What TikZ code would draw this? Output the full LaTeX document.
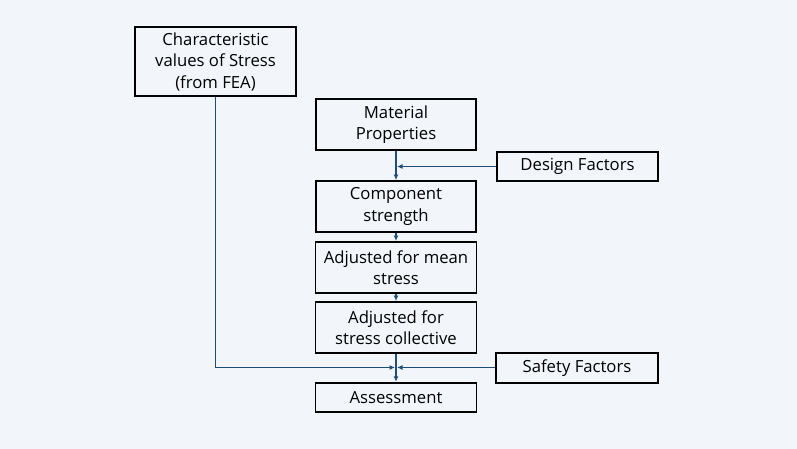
\documentclass[tikz,border=0pt]{standalone}
\usepackage{fontspec}
\setmainfont{Open Sans}
\usetikzlibrary{arrows.meta,calc}
\definecolor{bgc}{HTML}{F2F6FA}
\definecolor{linec}{HTML}{1F4E79}
\begin{document}
\begin{tikzpicture}[x=1pt,y=-1pt,
  box/.style={draw=black,line width=1.9pt,fill=bgc,align=center,inner sep=0pt,
    font=\fontsize{16.7}{21.5}\selectfont},
  conn/.style={draw=linec,line width=1.9pt,-{Latex[length=5.5pt,width=5pt]}},
  plain/.style={draw=linec,line width=1.9pt}]
\fill[bgc] (0,0) rectangle (797,449);
\useasboundingbox (0,0) rectangle (797,449);
\node[box,minimum width=161pt,minimum height=69pt] (fea) at (215.5,61.5) {Characteristic\\values of Stress\\(from FEA)};
\node[box,minimum width=160pt,minimum height=51pt] (mat) at (396,124.5) {Material\\Properties};
\node[box,minimum width=161pt,minimum height=29pt] (des) at (577.5,166.5) {Design Factors};
\node[box,minimum width=160pt,minimum height=51pt] (comp) at (396,206.5) {Component\\strength};
\node[box,minimum width=161pt,minimum height=51pt] (mean) at (396,267.5) {Adjusted for mean\\stress};
\node[box,minimum width=161pt,minimum height=51pt] (coll) at (396,327.5) {Adjusted for\\stress collective};
\node[box,minimum width=162pt,minimum height=29.5pt] (saf) at (577,368) {Safety Factors};
\node[box,minimum width=161pt,minimum height=29.5pt] (ass) at (396,397.5) {Assessment};
\coordinate (j1) at (396,166.5);
\coordinate (j2) at (396,367.5);
\draw[conn] (mat.south) -- (comp.north);
\draw[conn] (des.west) -- ($(j1)+(1,0)$);
\draw[conn] (comp.south) -- (mean.north);
\draw[conn] (mean.south) -- (coll.north);
\draw[conn] (coll.south) -- (ass.north);
\draw[conn] (fea.south) |- ($(j2)+(-1,0)$);
\draw[conn] (saf.west |- j2) -- ($(j2)+(1,0)$);
\end{tikzpicture}
\end{document}
